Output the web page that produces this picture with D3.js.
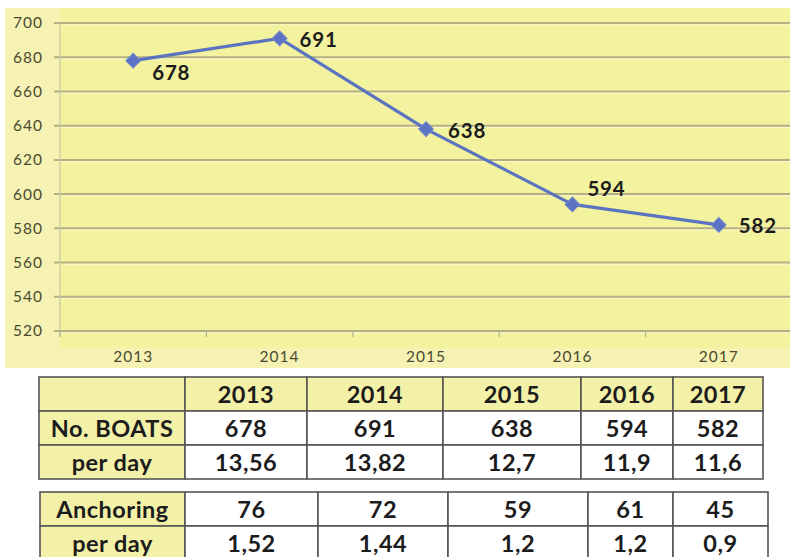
<!DOCTYPE html>
<html>
<head>
<meta charset="utf-8">
<script src="https://cdn.jsdelivr.net/npm/d3@7"></script>
<style>
  html, body { margin: 0; padding: 0; background: #ffffff; }
  svg { display: block; }
  text { font-family: Lato, "Open Sans", "DejaVu Sans", sans-serif; }
</style>
</head>
<body>
<svg id="chart" width="790" height="557"></svg>
<script>
// Yearly boat counts
const years = ["2013", "2014", "2015", "2016", "2017"];
const boats = [678, 691, 638, 594, 582];
const boatsPerDay = ["13,56", "13,82", "12,7", "11,9", "11,6"];
const anchoring = [76, 72, 59, 61, 45];
const anchoringPerDay = ["1,52", "1,44", "1,2", "1,2", "0,9"];
const yTicks = [520, 540, 560, 580, 600, 620, 640, 660, 680, 700];

const svg = d3.select("#chart");

// ---- line chart ----
const plot = { left: 60, right: 792, top: 23, bottom: 331 };

const x = d3.scaleBand().domain(years).range([plot.left, plot.right]).padding(0);
const y = d3.scaleLinear().domain([520, 700]).range([plot.bottom, plot.top]);

// chart background and plot area
svg.append("rect")
  .attr("x", 5).attr("y", 8).attr("width", 785).attr("height", 360)
  .attr("fill", "#f5f2b4");
svg.append("rect")
  .attr("x", plot.left).attr("y", 8).attr("width", 790 - plot.left).attr("height", 340)
  .attr("fill", "#f3f29f");

// horizontal gridlines
const grid = svg.append("g");
grid.selectAll("line.g")
  .data(yTicks)
  .join("line")
  .attr("class", "g")
  .attr("x1", plot.left - 6).attr("x2", 790)
  .attr("y1", d => y(d)).attr("y2", d => y(d))
  .attr("stroke", "#b3b085").attr("stroke-width", 2);
grid.selectAll("line.h")
  .data(yTicks)
  .join("line")
  .attr("class", "h")
  .attr("x1", plot.left).attr("x2", 790)
  .attr("y1", d => y(d) + 1.8).attr("y2", d => y(d) + 1.8)
  .attr("stroke", "#faf8c8").attr("stroke-width", 1);

// left axis line
svg.append("line")
  .attr("x1", plot.left).attr("x2", plot.left)
  .attr("y1", plot.top).attr("y2", plot.bottom + 5)
  .attr("stroke", "#c9c69a").attr("stroke-width", 1.2);

// y axis labels
const yAxis = d3.axisLeft(y).tickValues(yTicks).tickSize(0).tickPadding(17);
const gy = svg.append("g").attr("transform", `translate(${plot.left},0)`).call(yAxis);
gy.select(".domain").remove();
gy.selectAll("text")
  .attr("font-size", 15.5)
  .attr("letter-spacing", 1)
  .attr("fill", "#4a4a30")
  .attr("font-family", "Lato, 'Open Sans', sans-serif");

// x axis: category boundary ticks and labels
const xAxis = d3.axisBottom(x).tickSize(0).tickPadding(20);
const gx = svg.append("g").attr("transform", `translate(0,${plot.bottom})`).call(xAxis);
gx.select(".domain").remove();
gx.selectAll("text")
  .attr("font-size", 15.5)
  .attr("letter-spacing", 1)
  .attr("fill", "#4a4a30")
  .attr("font-family", "Lato, 'Open Sans', sans-serif");
svg.append("g").selectAll("line")
  .data(years)
  .join("line")
  .attr("x1", d => x(d)).attr("x2", d => x(d))
  .attr("y1", plot.bottom).attr("y2", plot.bottom + 6)
  .attr("stroke", "#b6b38a").attr("stroke-width", 1.2);

// series line
const pts = years.map((yr, i) => ({ year: yr, value: boats[i] }));
const cx = d => x(d.year) + x.bandwidth() / 2;
const line = d3.line().x(cx).y(d => y(d.value));
svg.append("path")
  .datum(pts)
  .attr("d", line)
  .attr("fill", "none")
  .attr("stroke", "#5a74c0")
  .attr("stroke-width", 3.2)
  .attr("stroke-linejoin", "round");

// diamond markers
svg.append("g").selectAll("path")
  .data(pts)
  .join("path")
  .attr("transform", d => `translate(${cx(d)},${y(d.value)}) rotate(45)`)
  .attr("d", "M-5.2,-5.2H5.2V5.2H-5.2Z")
  .attr("fill", "#5b73c2")
  .attr("stroke", "#6f86cc")
  .attr("stroke-width", 1);

// value labels (offsets from each marker)
const labelOffset = [[19, 12], [20, 1], [22, 2], [15, -16], [20, 1]];
svg.append("g").selectAll("text")
  .data(pts)
  .join("text")
  .attr("x", (d, i) => cx(d) + labelOffset[i][0])
  .attr("y", (d, i) => y(d.value) + labelOffset[i][1])
  .attr("dy", "0.35em")
  .attr("font-size", 20.5)
  .attr("letter-spacing", 0.8)
  .attr("font-weight", 700)
  .attr("fill", "#1c1c1c")
  .text(d => d.value);

// ---- data tables ----
const yellow = "#f3f1a8";
const borderColor = "#555555";

function drawTable(top, cols, rows) {
  const g = svg.append("g");
  const rowH = 34;
  rows.forEach((row, r) => {
    row.cells.forEach((cell, c) => {
      const x0 = cols[c], x1 = cols[c + 1];
      const isYellow = row.header || c === 0;
      g.append("rect")
        .attr("x", x0).attr("y", top + r * rowH)
        .attr("width", x1 - x0).attr("height", rowH)
        .attr("fill", isYellow ? yellow : "#ffffff")
        .attr("stroke", borderColor).attr("stroke-width", 1.6);
      g.append("text")
        .attr("x", (x0 + x1) / 2)
        .attr("y", top + r * rowH + rowH / 2 + 1)
        .attr("dy", "0.35em")
        .attr("text-anchor", "middle")
        .attr("font-size", 23.5)
        .attr("letter-spacing", 0.5)
        .attr("font-weight", 700)
        .attr("fill", "#1c1c1c")
        .text(cell);
    });
  });
}

drawTable(377, [39, 185, 307, 443, 581, 673, 763], [
  { header: true, cells: [""].concat(years) },
  { header: false, cells: ["No. BOATS"].concat(boats) },
  { header: false, cells: ["per day"].concat(boatsPerDay) }
]);

drawTable(492, [40, 185, 318, 448, 588, 673, 768], [
  { header: false, cells: ["Anchoring"].concat(anchoring) },
  { header: false, cells: ["per day"].concat(anchoringPerDay) }
]);
</script>
</body>
</html>
